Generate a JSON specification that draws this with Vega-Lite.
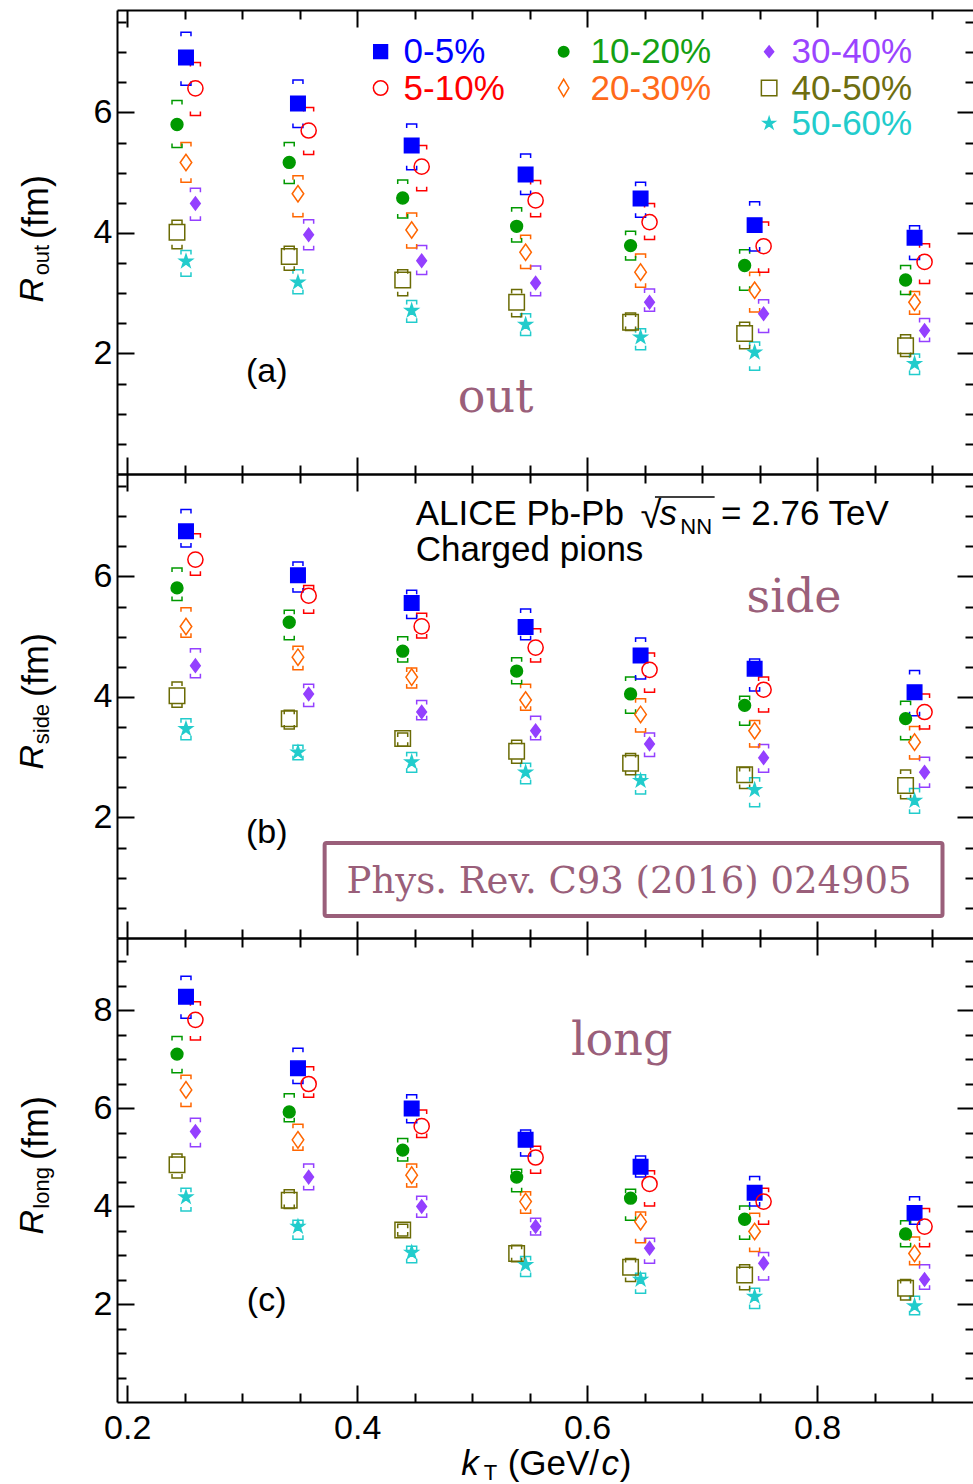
{
"$schema": "https://vega.github.io/schema/vega-lite/v6.json",
"padding": {"left": 15, "top": 5, "right": 0, "bottom": 0},
"background": "white",
"spacing": 0,
"bounds": "flush",
"config": {"view": {"stroke": null}, "font": "Liberation Sans",
  "axis": {"domainColor": "black", "domainWidth": 2, "tickColor": "black", "tickWidth": 2, "grid": false, "title": null, "labelFont": "Liberation Sans", "labelFontSize": 34, "labelColor": "black", "labelOverlap": false, "labelFlush": false}},
"datasets": {
"out": [
{"cent":"0-5%","kT":0.2511,"R":6.91,"lo":6.45,"hi":7.33},{"cent":"0-5%","kT":0.3485,"R":6.15,"lo":5.75,"hi":6.54},{"cent":"0-5%","kT":0.4474,"R":5.45,"lo":5.05,"hi":5.81},{"cent":"0-5%","kT":0.5465,"R":4.97,"lo":4.64,"hi":5.31},{"cent":"0-5%","kT":0.6465,"R":4.57,"lo":4.26,"hi":4.84},{"cent":"0-5%","kT":0.7457,"R":4.13,"lo":3.70,"hi":4.52},{"cent":"0-5%","kT":0.8848,"R":3.92,"lo":3.56,"hi":4.12},
{"cent":"5-10%","kT":0.2593,"R":6.40,"lo":5.95,"hi":6.83},{"cent":"5-10%","kT":0.3578,"R":5.70,"lo":5.30,"hi":6.08},{"cent":"5-10%","kT":0.4561,"R":5.10,"lo":4.70,"hi":5.45},{"cent":"5-10%","kT":0.5552,"R":4.54,"lo":4.27,"hi":4.87},{"cent":"5-10%","kT":0.6543,"R":4.18,"lo":3.89,"hi":4.49},{"cent":"5-10%","kT":0.7535,"R":3.78,"lo":3.35,"hi":4.18},{"cent":"5-10%","kT":0.8935,"R":3.52,"lo":3.16,"hi":3.82},
{"cent":"10-20%","kT":0.2433,"R":5.80,"lo":5.42,"hi":6.20},{"cent":"10-20%","kT":0.3409,"R":5.17,"lo":4.82,"hi":5.50},{"cent":"10-20%","kT":0.4396,"R":4.58,"lo":4.25,"hi":4.88},{"cent":"10-20%","kT":0.5387,"R":4.11,"lo":3.85,"hi":4.42},{"cent":"10-20%","kT":0.6378,"R":3.79,"lo":3.55,"hi":4.03},{"cent":"10-20%","kT":0.7370,"R":3.46,"lo":3.05,"hi":3.72},{"cent":"10-20%","kT":0.8770,"R":3.22,"lo":2.98,"hi":3.46},
{"cent":"20-30%","kT":0.2511,"R":5.17,"lo":4.84,"hi":5.50},{"cent":"20-30%","kT":0.3485,"R":4.65,"lo":4.27,"hi":4.95},{"cent":"20-30%","kT":0.4474,"R":4.05,"lo":3.75,"hi":4.33},{"cent":"20-30%","kT":0.5465,"R":3.68,"lo":3.41,"hi":3.96},{"cent":"20-30%","kT":0.6465,"R":3.35,"lo":3.10,"hi":3.65},{"cent":"20-30%","kT":0.7457,"R":3.05,"lo":2.69,"hi":3.35},{"cent":"20-30%","kT":0.8848,"R":2.85,"lo":2.65,"hi":3.03},
{"cent":"30-40%","kT":0.2593,"R":4.49,"lo":4.21,"hi":4.74},{"cent":"30-40%","kT":0.3578,"R":3.97,"lo":3.72,"hi":4.22},{"cent":"30-40%","kT":0.4561,"R":3.54,"lo":3.31,"hi":3.79},{"cent":"30-40%","kT":0.5552,"R":3.17,"lo":2.96,"hi":3.45},{"cent":"30-40%","kT":0.6543,"R":2.85,"lo":2.70,"hi":3.07},{"cent":"30-40%","kT":0.7535,"R":2.66,"lo":2.35,"hi":2.89},{"cent":"30-40%","kT":0.8935,"R":2.38,"lo":2.20,"hi":2.58},
{"cent":"40-50%","kT":0.2433,"R":4.01,"lo":3.74,"hi":4.21},{"cent":"40-50%","kT":0.3409,"R":3.61,"lo":3.38,"hi":3.78},{"cent":"40-50%","kT":0.4396,"R":3.22,"lo":2.96,"hi":3.39},{"cent":"40-50%","kT":0.5387,"R":2.85,"lo":2.61,"hi":3.06},{"cent":"40-50%","kT":0.6378,"R":2.52,"lo":2.38,"hi":2.67},{"cent":"40-50%","kT":0.7370,"R":2.33,"lo":2.08,"hi":2.52},{"cent":"40-50%","kT":0.8770,"R":2.13,"lo":1.95,"hi":2.31},
{"cent":"50-60%","kT":0.2511,"R":3.53,"lo":3.28,"hi":3.71},{"cent":"50-60%","kT":0.3485,"R":3.18,"lo":2.99,"hi":3.39},{"cent":"50-60%","kT":0.4474,"R":2.71,"lo":2.52,"hi":2.88},{"cent":"50-60%","kT":0.5465,"R":2.48,"lo":2.30,"hi":2.66},{"cent":"50-60%","kT":0.6465,"R":2.27,"lo":2.06,"hi":2.41},{"cent":"50-60%","kT":0.7457,"R":2.02,"lo":1.72,"hi":2.19},{"cent":"50-60%","kT":0.8848,"R":1.83,"lo":1.65,"hi":1.99}
],
"side": [
{"cent":"0-5%","kT":0.2511,"R":6.75,"lo":6.49,"hi":7.11},{"cent":"0-5%","kT":0.3485,"R":6.02,"lo":5.74,"hi":6.24},{"cent":"0-5%","kT":0.4474,"R":5.56,"lo":5.30,"hi":5.77},{"cent":"0-5%","kT":0.5465,"R":5.16,"lo":4.95,"hi":5.46},{"cent":"0-5%","kT":0.6465,"R":4.69,"lo":4.30,"hi":4.98},{"cent":"0-5%","kT":0.7457,"R":4.47,"lo":4.10,"hi":4.63},{"cent":"0-5%","kT":0.8848,"R":4.08,"lo":3.69,"hi":4.44},
{"cent":"5-10%","kT":0.2593,"R":6.28,"lo":6.02,"hi":6.71},{"cent":"5-10%","kT":0.3578,"R":5.68,"lo":5.39,"hi":5.85},{"cent":"5-10%","kT":0.4561,"R":5.17,"lo":4.98,"hi":5.39},{"cent":"5-10%","kT":0.5552,"R":4.82,"lo":4.58,"hi":5.13},{"cent":"5-10%","kT":0.6543,"R":4.45,"lo":4.08,"hi":4.73},{"cent":"5-10%","kT":0.7535,"R":4.12,"lo":3.75,"hi":4.33},{"cent":"5-10%","kT":0.8935,"R":3.75,"lo":3.47,"hi":4.05},
{"cent":"10-20%","kT":0.2433,"R":5.81,"lo":5.60,"hi":6.14},{"cent":"10-20%","kT":0.3409,"R":5.24,"lo":4.95,"hi":5.44},{"cent":"10-20%","kT":0.4396,"R":4.76,"lo":4.58,"hi":5.00},{"cent":"10-20%","kT":0.5387,"R":4.43,"lo":4.22,"hi":4.65},{"cent":"10-20%","kT":0.6378,"R":4.05,"lo":3.73,"hi":4.33},{"cent":"10-20%","kT":0.7370,"R":3.86,"lo":3.53,"hi":4.01},{"cent":"10-20%","kT":0.8770,"R":3.64,"lo":3.29,"hi":3.93},
{"cent":"20-30%","kT":0.2511,"R":5.17,"lo":4.99,"hi":5.48},{"cent":"20-30%","kT":0.3485,"R":4.66,"lo":4.45,"hi":4.84},{"cent":"20-30%","kT":0.4474,"R":4.33,"lo":4.15,"hi":4.48},{"cent":"20-30%","kT":0.5465,"R":3.95,"lo":3.78,"hi":4.21},{"cent":"20-30%","kT":0.6465,"R":3.71,"lo":3.42,"hi":3.97},{"cent":"20-30%","kT":0.7457,"R":3.44,"lo":3.17,"hi":3.61},{"cent":"20-30%","kT":0.8848,"R":3.25,"lo":2.97,"hi":3.51},
{"cent":"30-40%","kT":0.2593,"R":4.52,"lo":4.32,"hi":4.80},{"cent":"30-40%","kT":0.3578,"R":4.05,"lo":3.84,"hi":4.21},{"cent":"30-40%","kT":0.4561,"R":3.75,"lo":3.62,"hi":3.94},{"cent":"30-40%","kT":0.5552,"R":3.44,"lo":3.29,"hi":3.68},{"cent":"30-40%","kT":0.6543,"R":3.22,"lo":3.01,"hi":3.40},{"cent":"30-40%","kT":0.7535,"R":2.99,"lo":2.75,"hi":3.21},{"cent":"30-40%","kT":0.8935,"R":2.75,"lo":2.50,"hi":3.00},
{"cent":"40-50%","kT":0.2433,"R":4.02,"lo":3.83,"hi":4.25},{"cent":"40-50%","kT":0.3409,"R":3.64,"lo":3.47,"hi":3.78},{"cent":"40-50%","kT":0.4396,"R":3.31,"lo":3.18,"hi":3.40},{"cent":"40-50%","kT":0.5387,"R":3.10,"lo":2.90,"hi":3.28},{"cent":"40-50%","kT":0.6378,"R":2.90,"lo":2.71,"hi":3.06},{"cent":"40-50%","kT":0.7370,"R":2.71,"lo":2.48,"hi":2.83},{"cent":"40-50%","kT":0.8770,"R":2.53,"lo":2.31,"hi":2.79},
{"cent":"50-60%","kT":0.2511,"R":3.47,"lo":3.29,"hi":3.64},{"cent":"50-60%","kT":0.3485,"R":3.08,"lo":2.96,"hi":3.20},{"cent":"50-60%","kT":0.4474,"R":2.92,"lo":2.75,"hi":3.08},{"cent":"50-60%","kT":0.5465,"R":2.75,"lo":2.56,"hi":2.90},{"cent":"50-60%","kT":0.6465,"R":2.61,"lo":2.39,"hi":2.71},{"cent":"50-60%","kT":0.7457,"R":2.46,"lo":2.18,"hi":2.66},{"cent":"50-60%","kT":0.8848,"R":2.28,"lo":2.07,"hi":2.48}
],
"long": [
{"cent":"0-5%","kT":0.2511,"R":8.27,"lo":7.83,"hi":8.69},{"cent":"0-5%","kT":0.3485,"R":6.81,"lo":6.50,"hi":7.22},{"cent":"0-5%","kT":0.4474,"R":5.99,"lo":5.70,"hi":6.27},{"cent":"0-5%","kT":0.5465,"R":5.35,"lo":5.02,"hi":5.55},{"cent":"0-5%","kT":0.6465,"R":4.80,"lo":4.59,"hi":5.02},{"cent":"0-5%","kT":0.7457,"R":4.27,"lo":4.00,"hi":4.60},{"cent":"0-5%","kT":0.8848,"R":3.86,"lo":3.63,"hi":4.19},
{"cent":"5-10%","kT":0.2593,"R":7.80,"lo":7.39,"hi":8.17},{"cent":"5-10%","kT":0.3578,"R":6.49,"lo":6.22,"hi":6.84},{"cent":"5-10%","kT":0.4561,"R":5.63,"lo":5.40,"hi":5.96},{"cent":"5-10%","kT":0.5552,"R":4.99,"lo":4.67,"hi":5.22},{"cent":"5-10%","kT":0.6543,"R":4.45,"lo":4.00,"hi":4.72},{"cent":"5-10%","kT":0.7535,"R":4.09,"lo":3.63,"hi":4.36},{"cent":"5-10%","kT":0.8935,"R":3.58,"lo":3.17,"hi":3.95},
{"cent":"10-20%","kT":0.2433,"R":7.10,"lo":6.72,"hi":7.46},{"cent":"10-20%","kT":0.3409,"R":5.92,"lo":5.72,"hi":6.29},{"cent":"10-20%","kT":0.4396,"R":5.14,"lo":4.92,"hi":5.38},{"cent":"10-20%","kT":0.5387,"R":4.59,"lo":4.29,"hi":4.75},{"cent":"10-20%","kT":0.6378,"R":4.16,"lo":3.71,"hi":4.34},{"cent":"10-20%","kT":0.7370,"R":3.73,"lo":3.32,"hi":4.00},{"cent":"10-20%","kT":0.8770,"R":3.43,"lo":3.17,"hi":3.70},
{"cent":"20-30%","kT":0.2511,"R":6.37,"lo":6.03,"hi":6.67},{"cent":"20-30%","kT":0.3485,"R":5.35,"lo":5.14,"hi":5.67},{"cent":"20-30%","kT":0.4474,"R":4.63,"lo":4.39,"hi":4.86},{"cent":"20-30%","kT":0.5465,"R":4.09,"lo":3.85,"hi":4.29},{"cent":"20-30%","kT":0.6465,"R":3.68,"lo":3.25,"hi":3.88},{"cent":"20-30%","kT":0.7457,"R":3.48,"lo":3.07,"hi":3.85},{"cent":"20-30%","kT":0.8848,"R":3.03,"lo":2.80,"hi":3.37},
{"cent":"30-40%","kT":0.2593,"R":5.52,"lo":5.21,"hi":5.79},{"cent":"30-40%","kT":0.3578,"R":4.59,"lo":4.33,"hi":4.86},{"cent":"30-40%","kT":0.4561,"R":3.99,"lo":3.77,"hi":4.20},{"cent":"30-40%","kT":0.5552,"R":3.58,"lo":3.41,"hi":3.75},{"cent":"30-40%","kT":0.6543,"R":3.14,"lo":2.83,"hi":3.34},{"cent":"30-40%","kT":0.7535,"R":2.83,"lo":2.49,"hi":3.05},{"cent":"30-40%","kT":0.8935,"R":2.50,"lo":2.30,"hi":2.80},
{"cent":"40-50%","kT":0.2433,"R":4.84,"lo":4.57,"hi":5.06},{"cent":"40-50%","kT":0.3409,"R":4.12,"lo":3.95,"hi":4.33},{"cent":"40-50%","kT":0.4396,"R":3.51,"lo":3.39,"hi":3.63},{"cent":"40-50%","kT":0.5387,"R":3.03,"lo":2.86,"hi":3.20},{"cent":"40-50%","kT":0.6378,"R":2.75,"lo":2.46,"hi":2.93},{"cent":"40-50%","kT":0.7370,"R":2.59,"lo":2.29,"hi":2.80},{"cent":"40-50%","kT":0.8770,"R":2.32,"lo":2.08,"hi":2.50},
{"cent":"50-60%","kT":0.2511,"R":4.18,"lo":3.90,"hi":4.36},{"cent":"50-60%","kT":0.3485,"R":3.58,"lo":3.32,"hi":3.71},{"cent":"50-60%","kT":0.4474,"R":3.05,"lo":2.84,"hi":3.18},{"cent":"50-60%","kT":0.5465,"R":2.80,"lo":2.56,"hi":2.97},{"cent":"50-60%","kT":0.6465,"R":2.50,"lo":2.22,"hi":2.63},{"cent":"50-60%","kT":0.7457,"R":2.15,"lo":1.91,"hi":2.32},{"cent":"50-60%","kT":0.8848,"R":1.96,"lo":1.78,"hi":2.16}
]
},
"resolve": {"scale": {"shape": "independent", "fill": "independent", "stroke": "independent", "size": "independent", "color": "independent"}},
"vconcat": [
{
 "width": 857, "height": 464,
 "resolve": {"axis": {"x": "independent", "y": "independent"}},
 "layer": [
  {"data": {"name": "out"},
   "mark": {"type": "point", "shape": "M-1,0.8V0H1V0.8", "size": 100, "strokeWidth": 1.5, "filled": false, "opacity": 1},
   "encoding": {
    "x": {"field": "kT", "type": "quantitative", "scale": {"domain": [0.1911, 0.9365], "nice": false, "zero": false},
          "axis": {"orient": "bottom", "values": [0.2,0.25,0.3,0.35,0.4,0.45,0.5,0.55,0.6,0.65,0.7,0.75,0.8,0.85,0.9], "tickSize": {"condition": {"test": "abs(datum.value*5-round(datum.value*5))<0.001", "value": -17}, "value": -9}, "labels": false}},
    "y": {"field": "hi", "type": "quantitative", "scale": {"domain": [0, 7.7], "nice": false, "zero": false},
          "axis": {"orient": "left", "values": [0.5,1,1.5,2,2.5,3,3.5,4,4.5,5,5.5,6,6.5,7,7.5], "tickSize": {"condition": {"test": "datum.value % 2 === 0", "value": -17}, "value": -9}, "labelExpr": "datum.value % 2 === 0 ? format(datum.value, 'd') : ''", "labelPadding": 22}},
    "color": {"field": "cent", "type": "nominal", "legend": null,
              "scale": {"domain": ["0-5%","5-10%","10-20%","20-30%","30-40%","40-50%","50-60%"], "range": ["#0000ff","#ff0000","#009900","#ff6600","#9440ff","#6b6b05","#22cccc"]}}
   }
  },
  {"data": {"name": "out"},
   "mark": {"type": "point", "shape": "M-1,-0.8V0H1V-0.8", "size": 100, "strokeWidth": 1.5, "filled": false, "opacity": 1},
   "encoding": {
    "x": {"field": "kT", "type": "quantitative",
          "axis": {"orient": "top", "values": [0.2,0.25,0.3,0.35,0.4,0.45,0.5,0.55,0.6,0.65,0.7,0.75,0.8,0.85,0.9], "tickSize": {"condition": {"test": "abs(datum.value*5-round(datum.value*5))<0.001", "value": -17}, "value": -9}, "labels": false}},
    "y": {"field": "lo", "type": "quantitative",
          "axis": {"orient": "right", "values": [0.5,1,1.5,2,2.5,3,3.5,4,4.5,5,5.5,6,6.5,7,7.5], "tickSize": {"condition": {"test": "datum.value % 2 === 0", "value": -17}, "value": -9}, "labels": false}},
    "color": {"field": "cent", "type": "nominal", "legend": null}
   }
  },
  {"data": {"name": "out"},
   "mark": {"type": "point", "strokeWidth": 1.5, "opacity": 1},
   "encoding": {
    "x": {"field": "kT", "type": "quantitative", "axis": null},
    "y": {"field": "R", "type": "quantitative", "axis": null},
    "shape": {"field": "cent", "type": "nominal", "legend": null,
              "scale": {"domain": ["0-5%","5-10%","10-20%","20-30%","30-40%","40-50%","50-60%"], "range": ["square","circle","circle","M-0.7,0L0,-1L0.7,0L0,1Z","M-0.74,0L0,-1L0.74,0L0,1Z","square","M0,-1L0.2245,-0.309L0.951,-0.309L0.363,0.118L0.588,0.809L0,0.382L-0.588,0.809L-0.363,0.118L-0.951,-0.309L-0.2245,-0.309Z"]}},
    "fill": {"field": "cent", "type": "nominal", "legend": null,
             "scale": {"domain": ["0-5%","5-10%","10-20%","20-30%","30-40%","40-50%","50-60%"], "range": ["#0000ff","transparent","#009900","transparent","#9440ff","transparent","#22cccc"]}},
    "stroke": {"field": "cent", "type": "nominal", "legend": null,
             "scale": {"domain": ["0-5%","5-10%","10-20%","20-30%","30-40%","40-50%","50-60%"], "range": ["#0000ff","#ff0000","#009900","#ff6600","#9440ff","#6b6b05","#22cccc"]}},
    "size": {"field": "cent", "type": "nominal", "legend": null,
             "scale": {"type": "ordinal", "domain": ["0-5%","5-10%","10-20%","20-30%","30-40%","40-50%","50-60%"], "range": [210,230,140,272,170,240,180]}}
   }
  },
  {"data": {"values": [{}]}, "mark": {"type": "point", "shape": "square", "size": 190, "fill": "#0000ff", "stroke": "#0000ff", "strokeWidth": 1.5, "opacity": 1, "filled": true},
   "encoding": {"x": {"datum": 0.4204, "type": "quantitative", "axis": null}, "y": {"datum": 7.008, "type": "quantitative", "axis": null}}},
  {"data": {"values": [{}]}, "mark": {"type": "point", "shape": "circle", "size": 210, "stroke": "#ff0000", "strokeWidth": 1.5, "opacity": 1, "filled": false},
   "encoding": {"x": {"datum": 0.4204, "type": "quantitative", "axis": null}, "y": {"datum": 6.406, "type": "quantitative", "axis": null}}},
  {"data": {"values": [{}]}, "mark": {"type": "point", "shape": "circle", "size": 110, "fill": "#009900", "stroke": "#009900", "strokeWidth": 1.5, "opacity": 1, "filled": true},
   "encoding": {"x": {"datum": 0.5796, "type": "quantitative", "axis": null}, "y": {"datum": 7.008, "type": "quantitative", "axis": null}}},
  {"data": {"values": [{}]}, "mark": {"type": "point", "shape": "M-0.6,0L0,-1L0.6,0L0,1Z", "size": 300, "stroke": "#ff6600", "strokeWidth": 1.5, "opacity": 1, "filled": false},
   "encoding": {"x": {"datum": 0.5796, "type": "quantitative", "axis": null}, "y": {"datum": 6.406, "type": "quantitative", "axis": null}}},
  {"data": {"values": [{}]}, "mark": {"type": "point", "shape": "M-0.8,0L0,-1L0.8,0L0,1Z", "size": 130, "fill": "#9440ff", "stroke": "#9440ff", "strokeWidth": 1.5, "opacity": 1, "filled": true},
   "encoding": {"x": {"datum": 0.7583, "type": "quantitative", "axis": null}, "y": {"datum": 7.008, "type": "quantitative", "axis": null}}},
  {"data": {"values": [{}]}, "mark": {"type": "point", "shape": "square", "size": 240, "stroke": "#6b6b05", "strokeWidth": 1.5, "opacity": 1, "filled": false},
   "encoding": {"x": {"datum": 0.7583, "type": "quantitative", "axis": null}, "y": {"datum": 6.406, "type": "quantitative", "axis": null}}},
  {"data": {"values": [{}]}, "mark": {"type": "point", "shape": "M0,-1L0.2245,-0.309L0.951,-0.309L0.363,0.118L0.588,0.809L0,0.382L-0.588,0.809L-0.363,0.118L-0.951,-0.309L-0.2245,-0.309Z", "size": 150, "fill": "#22cccc", "stroke": "#22cccc", "strokeWidth": 1.5, "opacity": 1, "filled": true},
   "encoding": {"x": {"datum": 0.7583, "type": "quantitative", "axis": null}, "y": {"datum": 5.82, "type": "quantitative", "axis": null}}},
  {"data": {"values": [{}]}, "mark": {"type": "text", "text": "0-5%", "fontSize": 35, "align": "left", "baseline": "alphabetic", "color": "#0000ff"},
   "encoding": {"x": {"datum": 0.4404, "type": "quantitative", "axis": null}, "y": {"datum": 6.826, "type": "quantitative", "axis": null}}},
  {"data": {"values": [{}]}, "mark": {"type": "text", "text": "5-10%", "fontSize": 35, "align": "left", "baseline": "alphabetic", "color": "#ff0000"},
   "encoding": {"x": {"datum": 0.4404, "type": "quantitative", "axis": null}, "y": {"datum": 6.206, "type": "quantitative", "axis": null}}},
  {"data": {"values": [{}]}, "mark": {"type": "text", "text": "10-20%", "fontSize": 35, "align": "left", "baseline": "alphabetic", "color": "#14a014"},
   "encoding": {"x": {"datum": 0.603, "type": "quantitative", "axis": null}, "y": {"datum": 6.826, "type": "quantitative", "axis": null}}},
  {"data": {"values": [{}]}, "mark": {"type": "text", "text": "20-30%", "fontSize": 35, "align": "left", "baseline": "alphabetic", "color": "#ff6a1a"},
   "encoding": {"x": {"datum": 0.603, "type": "quantitative", "axis": null}, "y": {"datum": 6.206, "type": "quantitative", "axis": null}}},
  {"data": {"values": [{}]}, "mark": {"type": "text", "text": "30-40%", "fontSize": 35, "align": "left", "baseline": "alphabetic", "color": "#9a44ff"},
   "encoding": {"x": {"datum": 0.7778, "type": "quantitative", "axis": null}, "y": {"datum": 6.826, "type": "quantitative", "axis": null}}},
  {"data": {"values": [{}]}, "mark": {"type": "text", "text": "40-50%", "fontSize": 35, "align": "left", "baseline": "alphabetic", "color": "#6e6e10"},
   "encoding": {"x": {"datum": 0.7778, "type": "quantitative", "axis": null}, "y": {"datum": 6.206, "type": "quantitative", "axis": null}}},
  {"data": {"values": [{}]}, "mark": {"type": "text", "text": "50-60%", "fontSize": 35, "align": "left", "baseline": "alphabetic", "color": "#22cccc"},
   "encoding": {"x": {"datum": 0.7778, "type": "quantitative", "axis": null}, "y": {"datum": 5.626, "type": "quantitative", "axis": null}}},
  {"data": {"values": [{}]}, "mark": {"type": "text", "text": "(a)", "fontSize": 34, "align": "center", "baseline": "middle", "color": "black"},
   "encoding": {"x": {"datum": 0.3213, "type": "quantitative", "axis": null}, "y": {"datum": 1.69, "type": "quantitative", "axis": null}}},
  {"data": {"values": [{}]}, "mark": {"type": "text", "text": "out", "font": "DejaVu Serif", "fontSize": 46, "align": "center", "baseline": "alphabetic", "color": "#9a5f7a"},
   "encoding": {"x": {"datum": 0.5204, "type": "quantitative", "axis": null}, "y": {"datum": 1.03, "type": "quantitative", "axis": null}}},
  {"data": {"values": [{}]}, "mark": {"type": "text", "text": "R", "fontSize": 34, "fontStyle": "italic", "angle": 270, "align": "center", "baseline": "middle", "color": "black"},
   "encoding": {"x": {"datum": 0.1178, "type": "quantitative", "axis": null}, "y": {"datum": 3.05, "type": "quantitative", "axis": null}}},
  {"data": {"values": [{}]}, "mark": {"type": "text", "text": "out", "fontSize": 22, "angle": 270, "align": "center", "baseline": "middle", "color": "black"},
   "encoding": {"x": {"datum": 0.1257, "type": "quantitative", "axis": null}, "y": {"datum": 3.55, "type": "quantitative", "axis": null}}},
  {"data": {"values": [{}]}, "mark": {"type": "text", "text": "(fm)", "fontSize": 36, "angle": 270, "align": "center", "baseline": "middle", "color": "black"},
   "encoding": {"x": {"datum": 0.1213, "type": "quantitative", "axis": null}, "y": {"datum": 4.43, "type": "quantitative", "axis": null}}}
 ]
},
{
 "width": 857, "height": 464,
 "resolve": {"axis": {"x": "independent", "y": "independent"}},
 "layer": [
  {"data": {"name": "side"},
   "mark": {"type": "point", "shape": "M-1,0.8V0H1V0.8", "size": 100, "strokeWidth": 1.5, "filled": false, "opacity": 1},
   "encoding": {
    "x": {"field": "kT", "type": "quantitative", "scale": {"domain": [0.1911, 0.9365], "nice": false, "zero": false},
          "axis": {"orient": "bottom", "values": [0.2,0.25,0.3,0.35,0.4,0.45,0.5,0.55,0.6,0.65,0.7,0.75,0.8,0.85,0.9], "tickSize": {"condition": {"test": "abs(datum.value*5-round(datum.value*5))<0.001", "value": -17}, "value": -9}, "labels": false}},
    "y": {"field": "hi", "type": "quantitative", "scale": {"domain": [0, 7.7], "nice": false, "zero": false},
          "axis": {"orient": "left", "values": [0.5,1,1.5,2,2.5,3,3.5,4,4.5,5,5.5,6,6.5,7,7.5], "tickSize": {"condition": {"test": "datum.value % 2 === 0", "value": -17}, "value": -9}, "labelExpr": "datum.value % 2 === 0 ? format(datum.value, 'd') : ''", "labelPadding": 22}},
    "color": {"field": "cent", "type": "nominal", "legend": null,
              "scale": {"domain": ["0-5%","5-10%","10-20%","20-30%","30-40%","40-50%","50-60%"], "range": ["#0000ff","#ff0000","#009900","#ff6600","#9440ff","#6b6b05","#22cccc"]}}
   }
  },
  {"data": {"name": "side"},
   "mark": {"type": "point", "shape": "M-1,-0.8V0H1V-0.8", "size": 100, "strokeWidth": 1.5, "filled": false, "opacity": 1},
   "encoding": {
    "x": {"field": "kT", "type": "quantitative",
          "axis": {"orient": "top", "values": [0.2,0.25,0.3,0.35,0.4,0.45,0.5,0.55,0.6,0.65,0.7,0.75,0.8,0.85,0.9], "tickSize": {"condition": {"test": "abs(datum.value*5-round(datum.value*5))<0.001", "value": -17}, "value": -9}, "labels": false}},
    "y": {"field": "lo", "type": "quantitative",
          "axis": {"orient": "right", "values": [0.5,1,1.5,2,2.5,3,3.5,4,4.5,5,5.5,6,6.5,7,7.5], "tickSize": {"condition": {"test": "datum.value % 2 === 0", "value": -17}, "value": -9}, "labels": false}},
    "color": {"field": "cent", "type": "nominal", "legend": null}
   }
  },
  {"data": {"name": "side"},
   "mark": {"type": "point", "strokeWidth": 1.5, "opacity": 1},
   "encoding": {
    "x": {"field": "kT", "type": "quantitative", "axis": null},
    "y": {"field": "R", "type": "quantitative", "axis": null},
    "shape": {"field": "cent", "type": "nominal", "legend": null,
              "scale": {"domain": ["0-5%","5-10%","10-20%","20-30%","30-40%","40-50%","50-60%"], "range": ["square","circle","circle","M-0.7,0L0,-1L0.7,0L0,1Z","M-0.74,0L0,-1L0.74,0L0,1Z","square","M0,-1L0.2245,-0.309L0.951,-0.309L0.363,0.118L0.588,0.809L0,0.382L-0.588,0.809L-0.363,0.118L-0.951,-0.309L-0.2245,-0.309Z"]}},
    "fill": {"field": "cent", "type": "nominal", "legend": null,
             "scale": {"domain": ["0-5%","5-10%","10-20%","20-30%","30-40%","40-50%","50-60%"], "range": ["#0000ff","transparent","#009900","transparent","#9440ff","transparent","#22cccc"]}},
    "stroke": {"field": "cent", "type": "nominal", "legend": null,
             "scale": {"domain": ["0-5%","5-10%","10-20%","20-30%","30-40%","40-50%","50-60%"], "range": ["#0000ff","#ff0000","#009900","#ff6600","#9440ff","#6b6b05","#22cccc"]}},
    "size": {"field": "cent", "type": "nominal", "legend": null,
             "scale": {"type": "ordinal", "domain": ["0-5%","5-10%","10-20%","20-30%","30-40%","40-50%","50-60%"], "range": [210,230,140,272,170,240,180]}}
   }
  },
  {"data": {"values": [{}]}, "mark": {"type": "text", "text": "(b)", "fontSize": 34, "align": "center", "baseline": "middle", "color": "black"},
   "encoding": {"x": {"datum": 0.3213, "type": "quantitative", "axis": null}, "y": {"datum": 1.74, "type": "quantitative", "axis": null}}},
  {"data": {"values": [{}]}, "mark": {"type": "text", "text": "side", "font": "DejaVu Serif", "fontSize": 46, "align": "center", "baseline": "alphabetic", "color": "#9a5f7a"},
   "encoding": {"x": {"datum": 0.78, "type": "quantitative", "axis": null}, "y": {"datum": 5.41, "type": "quantitative", "axis": null}}},
  {"data": {"values": [{}]}, "mark": {"type": "text", "text": "ALICE Pb-Pb", "fontSize": 35, "align": "left", "baseline": "alphabetic", "color": "black"},
   "encoding": {"x": {"datum": 0.4509, "type": "quantitative", "axis": null}, "y": {"datum": 6.86, "type": "quantitative", "axis": null}}},
  {"data": {"values": [{}]}, "mark": {"type": "text", "text": "√", "fontSize": 38, "align": "left", "baseline": "alphabetic", "color": "black"},
   "encoding": {"x": {"datum": 0.6465, "type": "quantitative", "axis": null}, "y": {"datum": 6.8, "type": "quantitative", "axis": null}}},
  {"data": {"values": [{}]}, "mark": {"type": "text", "text": "s", "fontSize": 35, "fontStyle": "italic", "align": "left", "baseline": "alphabetic", "color": "black"},
   "encoding": {"x": {"datum": 0.6630, "type": "quantitative", "axis": null}, "y": {"datum": 6.86, "type": "quantitative", "axis": null}}},
  {"data": {"values": [{}]}, "mark": {"type": "text", "text": "NN", "fontSize": 22, "align": "left", "baseline": "alphabetic", "color": "black"},
   "encoding": {"x": {"datum": 0.6810, "type": "quantitative", "axis": null}, "y": {"datum": 6.71, "type": "quantitative", "axis": null}}},
  {"data": {"values": [{}]}, "mark": {"type": "rule", "color": "black", "strokeWidth": 1.5},
   "encoding": {"x": {"datum": 0.6590, "type": "quantitative", "axis": null}, "x2": {"datum": 0.7109}, "y": {"datum": 7.32, "type": "quantitative", "axis": null}}},
  {"data": {"values": [{}]}, "mark": {"type": "text", "text": "= 2.76 TeV", "fontSize": 35, "align": "left", "baseline": "alphabetic", "color": "black"},
   "encoding": {"x": {"datum": 0.7165, "type": "quantitative", "axis": null}, "y": {"datum": 6.86, "type": "quantitative", "axis": null}}},
  {"data": {"values": [{}]}, "mark": {"type": "text", "text": "Charged pions", "fontSize": 35, "align": "left", "baseline": "alphabetic", "color": "black"},
   "encoding": {"x": {"datum": 0.4509, "type": "quantitative", "axis": null}, "y": {"datum": 6.26, "type": "quantitative", "axis": null}}},
  {"data": {"values": [{}]}, "mark": {"type": "rect", "fill": "white", "fillOpacity": 0, "stroke": "#9a5f7a", "strokeWidth": 4, "cornerRadius": 2},
   "encoding": {"x": {"datum": 0.3717, "type": "quantitative", "axis": null}, "x2": {"datum": 0.9091}, "y": {"datum": 1.577, "type": "quantitative", "axis": null}, "y2": {"datum": 0.365}}},
  {"data": {"values": [{}]}, "mark": {"type": "text", "text": "Phys. Rev. C93 (2016) 024905", "font": "DejaVu Serif", "fontSize": 37, "align": "center", "baseline": "alphabetic", "color": "#9a5f7a"},
   "encoding": {"x": {"datum": 0.6365, "type": "quantitative", "axis": null}, "y": {"datum": 0.747, "type": "quantitative", "axis": null}}},
  {"data": {"values": [{}]}, "mark": {"type": "text", "text": "R", "fontSize": 34, "fontStyle": "italic", "angle": 270, "align": "center", "baseline": "middle", "color": "black"},
   "encoding": {"x": {"datum": 0.1178, "type": "quantitative", "axis": null}, "y": {"datum": 3.0, "type": "quantitative", "axis": null}}},
  {"data": {"values": [{}]}, "mark": {"type": "text", "text": "side", "fontSize": 22, "angle": 270, "align": "center", "baseline": "middle", "color": "black"},
   "encoding": {"x": {"datum": 0.1257, "type": "quantitative", "axis": null}, "y": {"datum": 3.55, "type": "quantitative", "axis": null}}},
  {"data": {"values": [{}]}, "mark": {"type": "text", "text": "(fm)", "fontSize": 36, "angle": 270, "align": "center", "baseline": "middle", "color": "black"},
   "encoding": {"x": {"datum": 0.1213, "type": "quantitative", "axis": null}, "y": {"datum": 4.53, "type": "quantitative", "axis": null}}}
 ]
},
{
 "width": 857, "height": 464,
 "resolve": {"axis": {"x": "independent", "y": "independent"}},
 "layer": [
  {"data": {"name": "long"},
   "mark": {"type": "point", "shape": "M-1,0.8V0H1V0.8", "size": 100, "strokeWidth": 1.5, "filled": false, "opacity": 1},
   "encoding": {
    "x": {"field": "kT", "type": "quantitative", "scale": {"domain": [0.1911, 0.9365], "nice": false, "zero": false},
          "axis": {"orient": "bottom", "values": [0.2,0.25,0.3,0.35,0.4,0.45,0.5,0.55,0.6,0.65,0.7,0.75,0.8,0.85,0.9], "tickSize": {"condition": {"test": "abs(datum.value*5-round(datum.value*5))<0.001", "value": -17}, "value": -9}, "labelExpr": "abs(datum.value*5-round(datum.value*5))<0.001 ? format(datum.value, '.1f') : ''", "labelPadding": 26}},
    "y": {"field": "hi", "type": "quantitative", "scale": {"domain": [0, 9.47], "nice": false, "zero": false},
          "axis": {"orient": "left", "values": [0.5,1,1.5,2,2.5,3,3.5,4,4.5,5,5.5,6,6.5,7,7.5,8,8.5,9], "tickSize": {"condition": {"test": "datum.value % 2 === 0", "value": -17}, "value": -9}, "labelExpr": "datum.value % 2 === 0 ? format(datum.value, 'd') : ''", "labelPadding": 22}},
    "color": {"field": "cent", "type": "nominal", "legend": null,
              "scale": {"domain": ["0-5%","5-10%","10-20%","20-30%","30-40%","40-50%","50-60%"], "range": ["#0000ff","#ff0000","#009900","#ff6600","#9440ff","#6b6b05","#22cccc"]}}
   }
  },
  {"data": {"name": "long"},
   "mark": {"type": "point", "shape": "M-1,-0.8V0H1V-0.8", "size": 100, "strokeWidth": 1.5, "filled": false, "opacity": 1},
   "encoding": {
    "x": {"field": "kT", "type": "quantitative",
          "axis": {"orient": "top", "values": [0.2,0.25,0.3,0.35,0.4,0.45,0.5,0.55,0.6,0.65,0.7,0.75,0.8,0.85,0.9], "tickSize": {"condition": {"test": "abs(datum.value*5-round(datum.value*5))<0.001", "value": -17}, "value": -9}, "labels": false}},
    "y": {"field": "lo", "type": "quantitative",
          "axis": {"orient": "right", "values": [0.5,1,1.5,2,2.5,3,3.5,4,4.5,5,5.5,6,6.5,7,7.5,8,8.5,9], "tickSize": {"condition": {"test": "datum.value % 2 === 0", "value": -17}, "value": -9}, "labels": false}},
    "color": {"field": "cent", "type": "nominal", "legend": null}
   }
  },
  {"data": {"name": "long"},
   "mark": {"type": "point", "strokeWidth": 1.5, "opacity": 1},
   "encoding": {
    "x": {"field": "kT", "type": "quantitative", "axis": null},
    "y": {"field": "R", "type": "quantitative", "axis": null},
    "shape": {"field": "cent", "type": "nominal", "legend": null,
              "scale": {"domain": ["0-5%","5-10%","10-20%","20-30%","30-40%","40-50%","50-60%"], "range": ["square","circle","circle","M-0.7,0L0,-1L0.7,0L0,1Z","M-0.74,0L0,-1L0.74,0L0,1Z","square","M0,-1L0.2245,-0.309L0.951,-0.309L0.363,0.118L0.588,0.809L0,0.382L-0.588,0.809L-0.363,0.118L-0.951,-0.309L-0.2245,-0.309Z"]}},
    "fill": {"field": "cent", "type": "nominal", "legend": null,
             "scale": {"domain": ["0-5%","5-10%","10-20%","20-30%","30-40%","40-50%","50-60%"], "range": ["#0000ff","transparent","#009900","transparent","#9440ff","transparent","#22cccc"]}},
    "stroke": {"field": "cent", "type": "nominal", "legend": null,
             "scale": {"domain": ["0-5%","5-10%","10-20%","20-30%","30-40%","40-50%","50-60%"], "range": ["#0000ff","#ff0000","#009900","#ff6600","#9440ff","#6b6b05","#22cccc"]}},
    "size": {"field": "cent", "type": "nominal", "legend": null,
             "scale": {"type": "ordinal", "domain": ["0-5%","5-10%","10-20%","20-30%","30-40%","40-50%","50-60%"], "range": [210,230,140,272,170,240,180]}}
   }
  },
  {"data": {"values": [{}]}, "mark": {"type": "text", "text": "(c)", "fontSize": 34, "align": "center", "baseline": "middle", "color": "black"},
   "encoding": {"x": {"datum": 0.3213, "type": "quantitative", "axis": null}, "y": {"datum": 2.06, "type": "quantitative", "axis": null}}},
  {"data": {"values": [{}]}, "mark": {"type": "text", "text": "long", "font": "DejaVu Serif", "fontSize": 46, "align": "center", "baseline": "alphabetic", "color": "#9a5f7a"},
   "encoding": {"x": {"datum": 0.63, "type": "quantitative", "axis": null}, "y": {"datum": 7.08, "type": "quantitative", "axis": null}}},
  {"data": {"values": [{}]}, "mark": {"type": "text", "text": "R", "fontSize": 34, "fontStyle": "italic", "angle": 270, "align": "center", "baseline": "middle", "color": "black"},
   "encoding": {"x": {"datum": 0.1178, "type": "quantitative", "axis": null}, "y": {"datum": 3.67, "type": "quantitative", "axis": null}}},
  {"data": {"values": [{}]}, "mark": {"type": "text", "text": "long", "fontSize": 22, "angle": 270, "align": "center", "baseline": "middle", "color": "black"},
   "encoding": {"x": {"datum": 0.1257, "type": "quantitative", "axis": null}, "y": {"datum": 4.37, "type": "quantitative", "axis": null}}},
  {"data": {"values": [{}]}, "mark": {"type": "text", "text": "(fm)", "fontSize": 36, "angle": 270, "align": "center", "baseline": "middle", "color": "black"},
   "encoding": {"x": {"datum": 0.1213, "type": "quantitative", "axis": null}, "y": {"datum": 5.59, "type": "quantitative", "axis": null}}},
  {"data": {"values": [{}]}, "mark": {"type": "text", "text": "k", "fontSize": 35, "fontStyle": "italic", "align": "left", "baseline": "alphabetic", "color": "black"},
   "encoding": {"x": {"datum": 0.4905, "type": "quantitative", "axis": null}, "y": {"datum": -1.49, "type": "quantitative", "axis": null}}},
  {"data": {"values": [{}]}, "mark": {"type": "text", "text": "T", "fontSize": 22, "align": "left", "baseline": "alphabetic", "color": "black"},
   "encoding": {"x": {"datum": 0.5100, "type": "quantitative", "axis": null}, "y": {"datum": -1.60, "type": "quantitative", "axis": null}}},
  {"data": {"values": [{}]}, "mark": {"type": "text", "text": "(GeV/", "fontSize": 35, "align": "left", "baseline": "alphabetic", "color": "black"},
   "encoding": {"x": {"datum": 0.5309, "type": "quantitative", "axis": null}, "y": {"datum": -1.49, "type": "quantitative", "axis": null}}},
  {"data": {"values": [{}]}, "mark": {"type": "text", "text": "c", "fontSize": 35, "fontStyle": "italic", "align": "left", "baseline": "alphabetic", "color": "black"},
   "encoding": {"x": {"datum": 0.6126, "type": "quantitative", "axis": null}, "y": {"datum": -1.49, "type": "quantitative", "axis": null}}},
  {"data": {"values": [{}]}, "mark": {"type": "text", "text": ")", "fontSize": 35, "align": "left", "baseline": "alphabetic", "color": "black"},
   "encoding": {"x": {"datum": 0.6283, "type": "quantitative", "axis": null}, "y": {"datum": -1.49, "type": "quantitative", "axis": null}}}
 ]
}
]
}
